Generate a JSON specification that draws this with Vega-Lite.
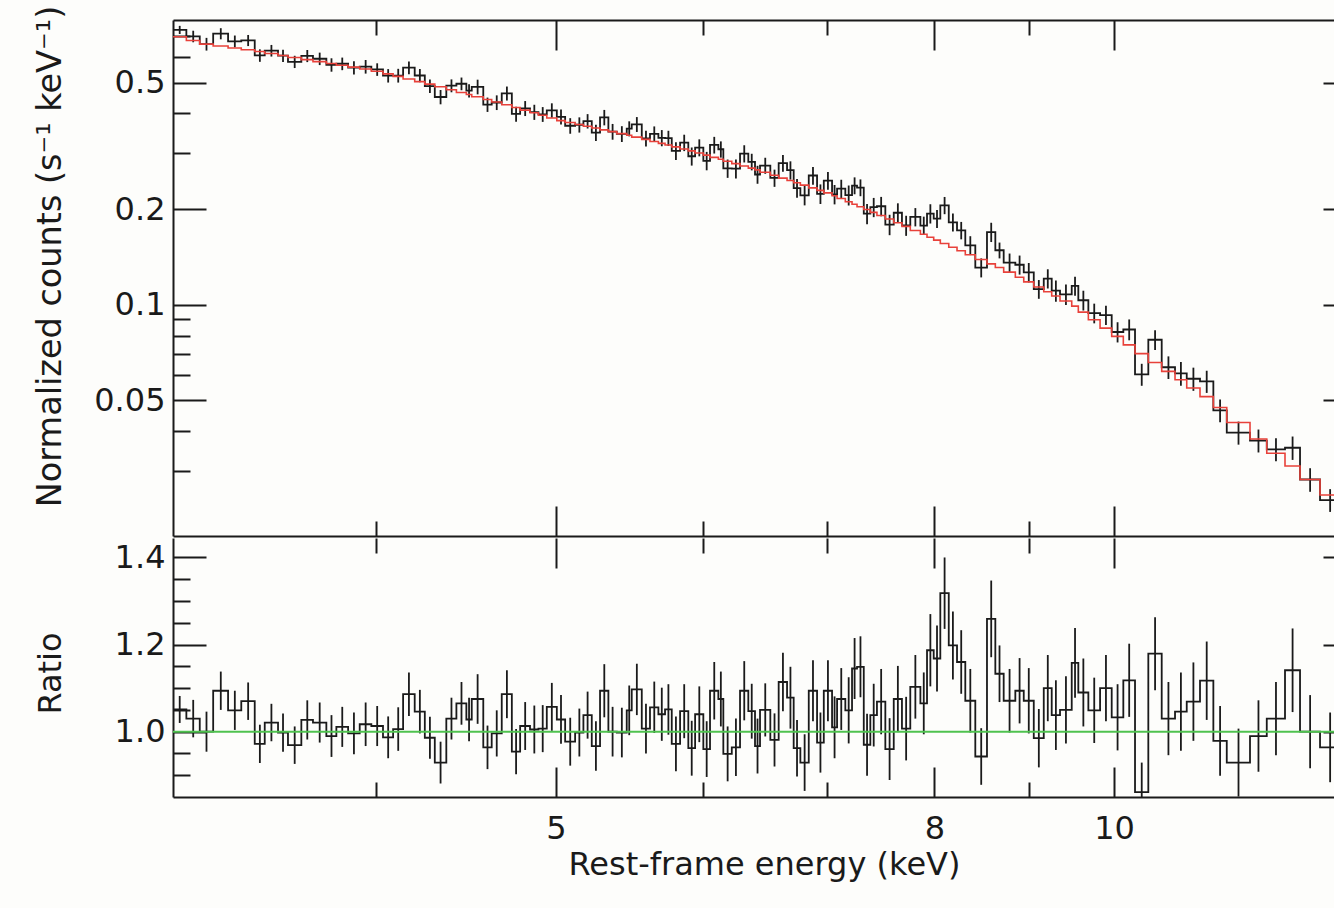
{
"$schema": "https://vega.github.io/schema/vega-lite/v6.json",
"background": "#fdfdfb",
"padding": {"left": 32, "top": 5, "right": 0, "bottom": 30},
"spacing": 0,
"datasets": {"bins": [
{"lo":3.107,"e":3.133,"m":0.6968,"d":0.7323,"de":0.0216,"r":1.051,"re":0.031},
{"lo":3.159,"e":3.186,"m":0.6783,"d":0.6986,"de":0.0292,"r":1.030,"re":0.043},
{"lo":3.212,"e":3.239,"m":0.6607,"d":0.6607,"de":0.0304,"r":1.000,"re":0.046},
{"lo":3.266,"e":3.297,"m":0.6514,"d":0.7126,"de":0.0287,"r":1.094,"re":0.044},
{"lo":3.327,"e":3.355,"m":0.6425,"d":0.6740,"de":0.0289,"r":1.049,"re":0.045},
{"lo":3.382,"e":3.411,"m":0.6341,"d":0.6785,"de":0.0273,"r":1.070,"re":0.043},
{"lo":3.439,"e":3.461,"m":0.6260,"d":0.6085,"de":0.0275,"r":0.972,"re":0.044},
{"lo":3.482,"e":3.511,"m":0.6171,"d":0.6301,"de":0.0265,"r":1.021,"re":0.043},
{"lo":3.540,"e":3.562,"m":0.6085,"d":0.6073,"de":0.0268,"r":0.998,"re":0.044},
{"lo":3.584,"e":3.614,"m":0.5998,"d":0.5812,"de":0.0258,"r":0.969,"re":0.043},
{"lo":3.644,"e":3.671,"m":0.5905,"d":0.6064,"de":0.0266,"r":1.027,"re":0.045},
{"lo":3.697,"e":3.728,"m":0.5820,"d":0.5942,"de":0.0268,"r":1.021,"re":0.046},
{"lo":3.759,"e":3.783,"m":0.5742,"d":0.5685,"de":0.0276,"r":0.990,"re":0.048},
{"lo":3.806,"e":3.834,"m":0.5668,"d":0.5730,"de":0.0261,"r":1.011,"re":0.046},
{"lo":3.862,"e":3.890,"m":0.5592,"d":0.5570,"de":0.0268,"r":0.996,"re":0.048},
{"lo":3.918,"e":3.947,"m":0.5517,"d":0.5611,"de":0.0276,"r":1.017,"re":0.050},
{"lo":3.975,"e":4.004,"m":0.5427,"d":0.5498,"de":0.0250,"r":1.013,"re":0.046},
{"lo":4.033,"e":4.059,"m":0.5325,"d":0.5256,"de":0.0256,"r":0.987,"re":0.048},
{"lo":4.084,"e":4.110,"m":0.5230,"d":0.5261,"de":0.0262,"r":1.006,"re":0.050},
{"lo":4.135,"e":4.165,"m":0.5129,"d":0.5570,"de":0.0256,"r":1.086,"re":0.050},
{"lo":4.195,"e":4.222,"m":0.5032,"d":0.5263,"de":0.0252,"r":1.046,"re":0.050},
{"lo":4.248,"e":4.275,"m":0.4943,"d":0.4874,"de":0.0237,"r":0.986,"re":0.048},
{"lo":4.301,"e":4.332,"m":0.4848,"d":0.4504,"de":0.0233,"r":0.929,"re":0.048},
{"lo":4.363,"e":4.391,"m":0.4746,"d":0.4888,"de":0.0228,"r":1.030,"re":0.048},
{"lo":4.418,"e":4.446,"m":0.4654,"d":0.4957,"de":0.0228,"r":1.065,"re":0.049},
{"lo":4.473,"e":4.488,"m":0.4585,"d":0.4713,"de":0.0229,"r":1.028,"re":0.050},
{"lo":4.503,"e":4.536,"m":0.4510,"d":0.4848,"de":0.0257,"r":1.075,"re":0.057},
{"lo":4.568,"e":4.592,"m":0.4422,"d":0.4263,"de":0.0221,"r":0.964,"re":0.050},
{"lo":4.616,"e":4.645,"m":0.4344,"d":0.4327,"de":0.0230,"r":0.996,"re":0.053},
{"lo":4.674,"e":4.704,"m":0.4258,"d":0.4624,"de":0.0234,"r":1.086,"re":0.055},
{"lo":4.733,"e":4.758,"m":0.4175,"d":0.3983,"de":0.0217,"r":0.954,"re":0.052},
{"lo":4.782,"e":4.812,"m":0.4095,"d":0.4148,"de":0.0225,"r":1.013,"re":0.055},
{"lo":4.841,"e":4.867,"m":0.4016,"d":0.4036,"de":0.0221,"r":1.005,"re":0.055},
{"lo":4.892,"e":4.918,"m":0.3945,"d":0.3973,"de":0.0213,"r":1.007,"re":0.054},
{"lo":4.943,"e":4.974,"m":0.3869,"d":0.4089,"de":0.0213,"r":1.057,"re":0.055},
{"lo":5.005,"e":5.031,"m":0.3796,"d":0.3902,"de":0.0213,"r":1.028,"re":0.056},
{"lo":5.057,"e":5.089,"m":0.3743,"d":0.3657,"de":0.0206,"r":0.977,"re":0.055},
{"lo":5.120,"e":5.147,"m":0.3690,"d":0.3683,"de":0.0203,"r":0.998,"re":0.055},
{"lo":5.173,"e":5.200,"m":0.3643,"d":0.3781,"de":0.0197,"r":1.038,"re":0.054},
{"lo":5.227,"e":5.254,"m":0.3596,"d":0.3477,"de":0.0205,"r":0.967,"re":0.057},
{"lo":5.281,"e":5.309,"m":0.3550,"d":0.3884,"de":0.0217,"r":1.094,"re":0.061},
{"lo":5.336,"e":5.364,"m":0.3505,"d":0.3505,"de":0.0200,"r":1.000,"re":0.057},
{"lo":5.392,"e":5.426,"m":0.3455,"d":0.3448,"de":0.0197,"r":0.998,"re":0.057},
{"lo":5.459,"e":5.476,"m":0.3414,"d":0.3581,"de":0.0195,"r":1.049,"re":0.057},
{"lo":5.493,"e":5.528,"m":0.3368,"d":0.3695,"de":0.0199,"r":1.097,"re":0.059},
{"lo":5.562,"e":5.591,"m":0.3312,"d":0.3335,"de":0.0189,"r":1.007,"re":0.057},
{"lo":5.619,"e":5.649,"m":0.3263,"d":0.3446,"de":0.0193,"r":1.056,"re":0.059},
{"lo":5.678,"e":5.702,"m":0.3219,"d":0.3348,"de":0.0196,"r":1.040,"re":0.061},
{"lo":5.725,"e":5.749,"m":0.3180,"d":0.3342,"de":0.0184,"r":1.051,"re":0.058},
{"lo":5.773,"e":5.803,"m":0.3137,"d":0.3049,"de":0.0198,"r":0.972,"re":0.063},
{"lo":5.833,"e":5.863,"m":0.3090,"d":0.3235,"de":0.0192,"r":1.047,"re":0.062},
{"lo":5.893,"e":5.918,"m":0.3048,"d":0.2932,"de":0.0192,"r":0.962,"re":0.063},
{"lo":5.943,"e":5.974,"m":0.3002,"d":0.3122,"de":0.0192,"r":1.040,"re":0.064},
{"lo":6.004,"e":6.029,"m":0.2955,"d":0.2837,"de":0.0189,"r":0.960,"re":0.064},
{"lo":6.054,"e":6.086,"m":0.2909,"d":0.3182,"de":0.0192,"r":1.094,"re":0.066},
{"lo":6.117,"e":6.136,"m":0.2869,"d":0.3084,"de":0.0181,"r":1.075,"re":0.063},
{"lo":6.155,"e":6.188,"m":0.2829,"d":0.2685,"de":0.0178,"r":0.949,"re":0.063},
{"lo":6.220,"e":6.252,"m":0.2780,"d":0.2680,"de":0.0183,"r":0.964,"re":0.066},
{"lo":6.284,"e":6.317,"m":0.2732,"d":0.2989,"de":0.0186,"r":1.094,"re":0.068},
{"lo":6.349,"e":6.376,"m":0.2690,"d":0.2816,"de":0.0169,"r":1.047,"re":0.063},
{"lo":6.402,"e":6.422,"m":0.2657,"d":0.2569,"de":0.0167,"r":0.967,"re":0.063},
{"lo":6.442,"e":6.484,"m":0.2610,"d":0.2741,"de":0.0159,"r":1.050,"re":0.061},
{"lo":6.525,"e":6.559,"m":0.2554,"d":0.2505,"de":0.0156,"r":0.981,"re":0.061},
{"lo":6.593,"e":6.628,"m":0.2503,"d":0.2788,"de":0.0168,"r":1.114,"re":0.067},
{"lo":6.662,"e":6.690,"m":0.2459,"d":0.2651,"de":0.0175,"r":1.078,"re":0.071},
{"lo":6.717,"e":6.745,"m":0.2421,"d":0.2329,"de":0.0157,"r":0.962,"re":0.065},
{"lo":6.773,"e":6.809,"m":0.2378,"d":0.2209,"de":0.0155,"r":0.929,"re":0.065},
{"lo":6.844,"e":6.880,"m":0.2331,"d":0.2550,"de":0.0163,"r":1.094,"re":0.070},
{"lo":6.915,"e":6.944,"m":0.2290,"d":0.2233,"de":0.0158,"r":0.975,"re":0.069},
{"lo":6.973,"e":7.009,"m":0.2248,"d":0.2459,"de":0.0157,"r":1.094,"re":0.070},
{"lo":7.045,"e":7.067,"m":0.2203,"d":0.2225,"de":0.0156,"r":1.010,"re":0.071},
{"lo":7.089,"e":7.126,"m":0.2158,"d":0.2320,"de":0.0153,"r":1.075,"re":0.071},
{"lo":7.162,"e":7.192,"m":0.2109,"d":0.2212,"de":0.0160,"r":1.049,"re":0.076},
{"lo":7.222,"e":7.245,"m":0.2071,"d":0.2371,"de":0.0145,"r":1.145,"re":0.070},
{"lo":7.267,"e":7.298,"m":0.2034,"d":0.2337,"de":0.0142,"r":1.149,"re":0.070},
{"lo":7.328,"e":7.358,"m":0.1994,"d":0.1934,"de":0.0142,"r":0.970,"re":0.071},
{"lo":7.388,"e":7.419,"m":0.1953,"d":0.2027,"de":0.0141,"r":1.038,"re":0.072},
{"lo":7.449,"e":7.488,"m":0.1909,"d":0.2041,"de":0.0143,"r":1.069,"re":0.075},
{"lo":7.527,"e":7.567,"m":0.1861,"d":0.1787,"de":0.0132,"r":0.960,"re":0.071},
{"lo":7.606,"e":7.645,"m":0.1811,"d":0.1947,"de":0.0138,"r":1.075,"re":0.076},
{"lo":7.684,"e":7.724,"m":0.1764,"d":0.1776,"de":0.0129,"r":1.007,"re":0.073},
{"lo":7.764,"e":7.813,"m":0.1713,"d":0.1889,"de":0.0125,"r":1.103,"re":0.073},
{"lo":7.862,"e":7.895,"m":0.1667,"d":0.1775,"de":0.0118,"r":1.065,"re":0.071},
{"lo":7.927,"e":7.960,"m":0.1631,"d":0.1936,"de":0.0135,"r":1.187,"re":0.083},
{"lo":7.993,"e":8.026,"m":0.1597,"d":0.1865,"de":0.0121,"r":1.168,"re":0.076},
{"lo":8.059,"e":8.102,"m":0.1559,"d":0.2055,"de":0.0128,"r":1.318,"re":0.082},
{"lo":8.144,"e":8.186,"m":0.1517,"d":0.1817,"de":0.0118,"r":1.198,"re":0.078},
{"lo":8.228,"e":8.271,"m":0.1478,"d":0.1714,"de":0.0108,"r":1.160,"re":0.073},
{"lo":8.313,"e":8.365,"m":0.1436,"d":0.1538,"de":0.0105,"r":1.071,"re":0.073},
{"lo":8.417,"e":8.479,"m":0.1388,"d":0.1309,"de":0.0090,"r":0.943,"re":0.065},
{"lo":8.540,"e":8.585,"m":0.1345,"d":0.1693,"de":0.0118,"r":1.259,"re":0.088},
{"lo":8.629,"e":8.674,"m":0.1310,"d":0.1484,"de":0.0085,"r":1.133,"re":0.065},
{"lo":8.719,"e":8.783,"m":0.1267,"d":0.1357,"de":0.0092,"r":1.071,"re":0.073},
{"lo":8.846,"e":8.893,"m":0.1221,"d":0.1336,"de":0.0092,"r":1.094,"re":0.075},
{"lo":8.939,"e":8.995,"m":0.1180,"d":0.1264,"de":0.0089,"r":1.071,"re":0.075},
{"lo":9.051,"e":9.108,"m":0.1137,"d":0.1120,"de":0.0076,"r":0.985,"re":0.067},
{"lo":9.164,"e":9.210,"m":0.1099,"d":0.1209,"de":0.0084,"r":1.100,"re":0.076},
{"lo":9.255,"e":9.303,"m":0.1066,"d":0.1107,"de":0.0085,"r":1.038,"re":0.080},
{"lo":9.351,"e":9.420,"m":0.1027,"d":0.1078,"de":0.0079,"r":1.050,"re":0.077},
{"lo":9.488,"e":9.527,"m":0.0990,"d":0.1146,"de":0.0079,"r":1.158,"re":0.080},
{"lo":9.566,"e":9.626,"m":0.0948,"d":0.1033,"de":0.0074,"r":1.090,"re":0.078},
{"lo":9.686,"e":9.757,"m":0.0897,"d":0.0941,"de":0.0067,"r":1.049,"re":0.075},
{"lo":9.828,"e":9.900,"m":0.0844,"d":0.0928,"de":0.0064,"r":1.100,"re":0.076},
{"lo":9.971,"e":10.044,"m":0.0795,"d":0.0821,"de":0.0060,"r":1.033,"re":0.076},
{"lo":10.116,"e":10.190,"m":0.0748,"d":0.0836,"de":0.0063,"r":1.118,"re":0.084},
{"lo":10.264,"e":10.350,"m":0.0702,"d":0.0604,"de":0.0048,"r":0.861,"re":0.068},
{"lo":10.435,"e":10.523,"m":0.0658,"d":0.0776,"de":0.0055,"r":1.179,"re":0.084},
{"lo":10.610,"e":10.699,"m":0.0617,"d":0.0636,"de":0.0052,"r":1.030,"re":0.084},
{"lo":10.787,"e":10.866,"m":0.0581,"d":0.0608,"de":0.0052,"r":1.046,"re":0.090},
{"lo":10.945,"e":11.036,"m":0.0547,"d":0.0585,"de":0.0049,"r":1.069,"re":0.090},
{"lo":11.127,"e":11.220,"m":0.0514,"d":0.0574,"de":0.0046,"r":1.117,"re":0.090},
{"lo":11.313,"e":11.408,"m":0.0475,"d":0.0465,"de":0.0038,"r":0.979,"re":0.080},
{"lo":11.503,"e":11.672,"m":0.0426,"d":0.0396,"de":0.0033,"r":0.929,"re":0.078},
{"lo":11.840,"e":11.965,"m":0.0378,"d":0.0374,"de":0.0031,"r":0.990,"re":0.082},
{"lo":12.089,"e":12.228,"m":0.0341,"d":0.0351,"de":0.0029,"r":1.030,"re":0.084},
{"lo":12.366,"e":12.483,"m":0.0311,"d":0.0355,"de":0.0030,"r":1.141,"re":0.096},
{"lo":12.599,"e":12.758,"m":0.0282,"d":0.0282,"de":0.0024,"r":1.000,"re":0.084},
{"lo":12.916,"e":13.079,"m":0.0252,"d":0.0243,"de":0.0020,"r":0.964,"re":0.080},
{"lo":13.241,"m":0.0252,"d":0.0243,"r":0.964}
]},
"vconcat": [
{
"width": 1161,
"height": 516,
"data": {"name": "bins"},
"layer": [
{"mark": {"type": "line", "interpolate": "step-after", "color": "#1a1a1a", "strokeWidth": 1.8, "clip": true},
 "encoding": {
  "x": {"field": "lo", "type": "quantitative", "scale": {"type": "log", "domain": [3.107, 13.142], "nice": false},
        "axis": {"orient": "bottom", "values": [5, 8, 10], "tickSize": -30, "labels": false, "title": null, "domain": true}},
  "y": {"field": "d", "type": "quantitative", "scale": {"type": "log", "domain": [0.01873, 0.7866], "nice": false},
        "axis": {"orient": "left", "values": [0.05, 0.1, 0.2, 0.5], "tickSize": -33, "labelPadding": 41, "format": "~g",
                 "title": "Normalized counts (s⁻¹ keV⁻¹)", "titleFontSize": 33.5, "titleX": -123, "titleY": 236, "titleBaseline": "middle", "titleAlign": "center", "domain": true}}
 }},
{"transform": [{"filter": "isValid(datum.e)"}],
 "mark": {"type": "errorbar", "color": "#1a1a1a", "thickness": 1.8, "clip": true},
 "encoding": {
  "x": {"field": "e", "type": "quantitative", "scale": {"type": "log", "domain": [3.107, 13.142], "nice": false}, "axis": null},
  "y": {"field": "d", "type": "quantitative", "scale": {"type": "log", "domain": [0.01873, 0.7866], "nice": false}, "axis": null},
  "yError": {"field": "de"}
 }},
{"mark": {"type": "line", "interpolate": "step-after", "color": "#e8413a", "strokeWidth": 1.6, "clip": true},
 "encoding": {
  "x": {"field": "lo", "type": "quantitative", "scale": {"type": "log", "domain": [3.107, 13.142], "nice": false},
        "axis": {"orient": "bottom", "values": [4, 6, 7, 9], "tickSize": -15, "labels": false, "title": null, "domain": false}},
  "y": {"field": "m", "type": "quantitative", "scale": {"type": "log", "domain": [0.01873, 0.7866], "nice": false},
        "axis": {"orient": "left", "values": [0.03, 0.04, 0.06, 0.07, 0.08, 0.09, 0.3, 0.4, 0.6, 0.7], "tickSize": -17, "labels": false, "title": null, "domain": false}}
 }},
{"mark": {"type": "line", "opacity": 0},
 "encoding": {
  "x": {"field": "lo", "type": "quantitative", "scale": {"type": "log", "domain": [3.107, 13.142], "nice": false},
        "axis": {"orient": "top", "values": [5, 8, 10], "tickSize": -30, "labels": false, "title": null, "domain": true}},
  "y": {"field": "m", "type": "quantitative", "scale": {"type": "log", "domain": [0.01873, 0.7866], "nice": false},
        "axis": {"orient": "right", "values": [0.05, 0.1, 0.2, 0.5], "tickSize": -11, "labels": false, "title": null, "domain": false}}
 }},
{"mark": {"type": "line", "opacity": 0},
 "encoding": {
  "x": {"field": "lo", "type": "quantitative", "scale": {"type": "log", "domain": [3.107, 13.142], "nice": false},
        "axis": {"orient": "top", "values": [4, 6, 7, 9], "tickSize": -15, "labels": false, "title": null, "domain": false}},
  "y": {"field": "m", "type": "quantitative", "scale": {"type": "log", "domain": [0.01873, 0.7866], "nice": false}, "axis": null}
 }}
],
"resolve": {"axis": {"x": "independent", "y": "independent"}}
},
{
"width": 1161,
"height": 259,
"layer": [
{"data": {"name": "bins"},
 "mark": {"type": "line", "interpolate": "step-after", "color": "#1a1a1a", "strokeWidth": 1.8, "clip": true},
 "encoding": {
  "x": {"field": "lo", "type": "quantitative", "scale": {"type": "log", "domain": [3.107, 13.142], "nice": false},
        "axis": {"orient": "bottom", "values": [5, 8, 10], "tickSize": -30, "labelPadding": 46, "format": "~g",
                 "title": "Rest-frame energy (keV)", "titleX": 591, "titleY": 77, "titleBaseline": "alphabetic", "titleAlign": "center", "domain": true}},
  "y": {"field": "r", "type": "quantitative", "scale": {"domain": [0.85, 1.4447], "nice": false, "zero": false},
        "axis": {"orient": "left", "values": [1.0, 1.2, 1.4], "tickSize": -33, "labelPadding": 41, "format": ".1f",
                 "title": "Ratio", "titleX": -123, "titleY": 135, "titleBaseline": "middle", "titleAlign": "center", "domain": true}}
 }},
{"data": {"name": "bins"},
 "transform": [{"filter": "isValid(datum.e)"}],
 "mark": {"type": "errorbar", "color": "#1a1a1a", "thickness": 1.8, "clip": true},
 "encoding": {
  "x": {"field": "e", "type": "quantitative", "scale": {"type": "log", "domain": [3.107, 13.142], "nice": false}, "axis": null},
  "y": {"field": "r", "type": "quantitative", "scale": {"domain": [0.85, 1.4447], "nice": false, "zero": false}, "axis": null},
  "yError": {"field": "re"}
 }},
{"data": {"name": "bins"},
 "mark": {"type": "line", "opacity": 0},
 "encoding": {
  "x": {"field": "lo", "type": "quantitative", "scale": {"type": "log", "domain": [3.107, 13.142], "nice": false},
        "axis": {"orient": "bottom", "values": [4, 6, 7, 9], "tickSize": -15, "labels": false, "title": null, "domain": false}},
  "y": {"field": "r", "type": "quantitative", "scale": {"domain": [0.85, 1.4447], "nice": false, "zero": false},
        "axis": {"orient": "left", "values": [0.9, 0.95, 1.05, 1.1, 1.15, 1.25, 1.3, 1.35], "tickSize": -17, "labels": false, "title": null, "domain": false}}
 }},
{"data": {"name": "bins"},
 "mark": {"type": "line", "opacity": 0},
 "encoding": {
  "x": {"field": "lo", "type": "quantitative", "scale": {"type": "log", "domain": [3.107, 13.142], "nice": false},
        "axis": {"orient": "top", "values": [5, 8, 10], "tickSize": -30, "labels": false, "title": null, "domain": false}},
  "y": {"field": "r", "type": "quantitative", "scale": {"domain": [0.85, 1.4447], "nice": false, "zero": false},
        "axis": {"orient": "right", "values": [1.0, 1.2, 1.4], "tickSize": -11, "labels": false, "title": null, "domain": false}}
 }},
{"data": {"name": "bins"},
 "mark": {"type": "line", "opacity": 0},
 "encoding": {
  "x": {"field": "lo", "type": "quantitative", "scale": {"type": "log", "domain": [3.107, 13.142], "nice": false},
        "axis": {"orient": "top", "values": [4, 6, 7, 9], "tickSize": -15, "labels": false, "title": null, "domain": false}},
  "y": {"field": "r", "type": "quantitative", "scale": {"domain": [0.85, 1.4447], "nice": false, "zero": false}, "axis": null}
 }},
{"data": {"values": [{"v": 1.0}]},
 "mark": {"type": "rule", "color": "#4fc24f", "strokeWidth": 2},
 "encoding": {
  "y": {"field": "v", "type": "quantitative", "scale": {"domain": [0.85, 1.4447], "nice": false, "zero": false}, "axis": null}
 }}
],
"resolve": {"axis": {"x": "independent", "y": "independent"}}
}
],
"config": {
 "view": {"stroke": null},
 "axis": {"grid": false, "labelFont": "DejaVu Sans", "labelFontSize": 32, "labelColor": "#1a1a1a",
          "titleFont": "DejaVu Sans", "titleFontSize": 32, "titleFontWeight": "normal", "titleColor": "#1a1a1a",
          "tickColor": "#1a1a1a", "tickWidth": 2, "domainColor": "#1a1a1a", "domainWidth": 2,
          "labelFlush": false, "labelOverlap": false}
}
}
